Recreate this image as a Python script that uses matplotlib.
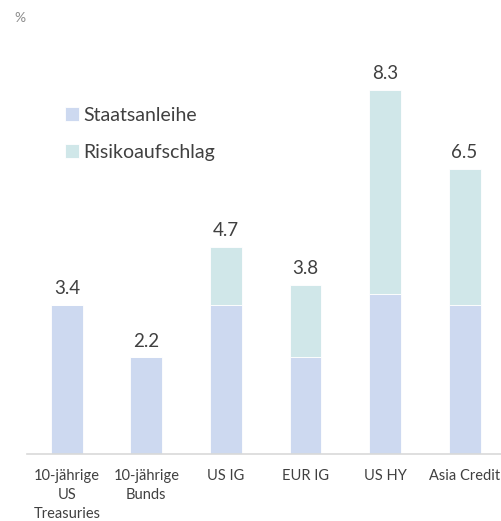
#!/usr/bin/env python3
"""Stacked bars: Staatsanleihe + Risikoaufschlag per Anlageklasse."""

import matplotlib

matplotlib.use("Agg")
import matplotlib.pyplot as plt
import numpy as np

categories = ["10-jährige\nUS\nTreasuries", "10-jährige\nBunds", "US IG", "EUR IG", "US HY", "Asia Credit"]
staatsanleihe = [3.4, 2.2, 3.4, 2.2, 3.65, 3.4]
risikoaufschlag = [0.0, 0.0, 1.32, 1.65, 4.65, 3.1]
total_labels = ["3.4", "2.2", "4.7", "3.8", "8.3", "6.5"]

COL_GOV = "#CDD9F0"
COL_RISK = "#D0E7E9"
TEXT = "#404040"

plt.rcParams["font.family"] = ["Lato", "DejaVu Sans"]

fig = plt.figure(figsize=(5.02, 5.21), dpi=100)
ax = fig.add_axes([27 / 502, 67 / 521, 475 / 502, 417 / 521])

x = np.arange(len(categories))
gov = np.asarray(staatsanleihe)
risk = np.asarray(risikoaufschlag)
ax.bar(x, gov, width=0.4, color=COL_GOV, label="Staatsanleihe", edgecolor="white", linewidth=0.6)
ax.bar(x, risk, width=0.4, bottom=gov, color=COL_RISK, label="Risikoaufschlag", edgecolor="white", linewidth=0.6)

for xi, top, lbl in zip(x, gov + risk, total_labels):
    ax.text(xi, top + 0.18, lbl, ha="center", va="bottom", fontsize=13.5, color=TEXT)

ax.set_xlim(-0.5, 5.47)
ax.set_ylim(0, 9.5)
ax.set_yticks([])
ax.set_xticks(x)
ax.set_xticklabels(categories, fontsize=10.5, color=TEXT, linespacing=1.45)
ax.tick_params(axis="x", length=0, pad=11)
for side in ("top", "right", "left"):
    ax.spines[side].set_visible(False)
ax.spines["bottom"].set_color("#D9D9D9")
ax.spines["bottom"].set_linewidth(1.2)

ax.legend(loc="upper left", bbox_to_anchor=(0.043, 0.875), frameon=False, fontsize=14,
          handlelength=0.7, handleheight=0.7, handletextpad=0.25, labelspacing=1.05,
          labelcolor=TEXT)

fig.text(14 / 502, 1 - 18 / 521, "%", fontsize=10, color="#8C8C8C", ha="left", va="center")

fig.savefig("out.png", dpi=100)
plt.close(fig)
